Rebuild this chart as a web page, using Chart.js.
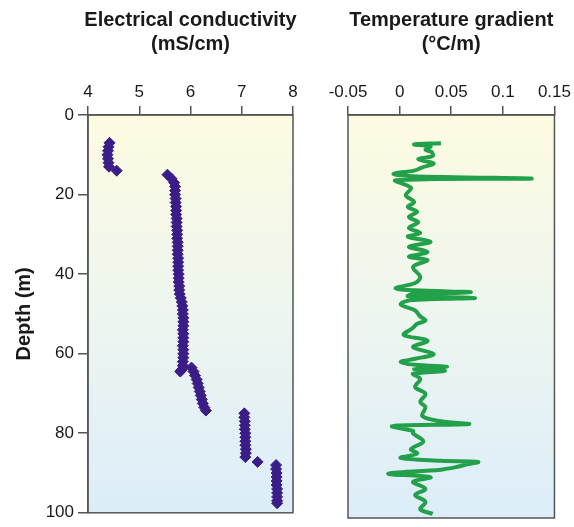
<!DOCTYPE html>
<html>
<head>
<meta charset="utf-8">
<script src="https://cdn.jsdelivr.net/npm/chart.js@4"></script>
<style>
	body { margin: 0; background: #fff; }
	canvas { position: absolute; top: 0; }
	#ecChart { left: 0; }
	#tgChart { left: 305px; }
</style>
</head>
<body>
<canvas id="ecChart" width="305" height="527"></canvas>
<canvas id="tgChart" width="269" height="527"></canvas>
<script>
// electrical conductivity log (mS/cm) against depth (m)
let ecDepth = [7, 8, 9, 10, 11, 12, 13, 14,
	15, 16, 17, 18, 19, 20, 21, 22, 23, 24, 25, 26, 27, 28, 29, 30, 31, 32, 33, 34, 35,
	36, 37, 38, 39, 40, 41, 42, 43, 44, 45, 46, 47, 48, 49, 50, 51, 52, 53, 54, 55,
	56, 57, 58, 59, 60, 61, 62, 63, 64, 64.5,
	63.5, 64.5, 65.5, 66.5, 67.5, 68.5, 69.5, 70.5, 71.5, 72.5, 73.5, 74.3,
	75, 76, 77, 78, 79, 80, 81, 82, 83, 84, 85, 86, 87.2,
	88, 89, 90, 91, 92, 93, 94, 95, 96, 97, 97.6];
let ecValue = [4.42, 4.40, 4.39, 4.38, 4.39, 4.40, 4.41, 4.56,
	5.55, 5.63, 5.68, 5.70, 5.70, 5.70, 5.71, 5.71, 5.72, 5.72, 5.72, 5.73, 5.73, 5.73, 5.74, 5.74, 5.74, 5.75, 5.75, 5.75, 5.75,
	5.76, 5.76, 5.76, 5.76, 5.77, 5.77, 5.77, 5.78, 5.78, 5.79, 5.81, 5.83, 5.84, 5.85, 5.85, 5.86, 5.86, 5.86, 5.85, 5.86,
	5.86, 5.86, 5.85, 5.86, 5.86, 5.86, 5.85, 5.85, 5.83, 5.80,
	6.02, 6.06, 6.09, 6.12, 6.14, 6.16, 6.18, 6.20, 6.22, 6.24, 6.27, 6.30,
	7.05, 7.05, 7.06, 7.06, 7.06, 7.07, 7.07, 7.07, 7.07, 7.08, 7.08, 7.07, 7.31,
	7.67, 7.67, 7.68, 7.68, 7.68, 7.68, 7.69, 7.69, 7.69, 7.69, 7.69];

// temperature gradient (°C/m) against depth (m)
let tgDepth = [7.0, 7.3, 7.8, 8.6, 9.2, 10.2, 11.0, 12.0, 13.0, 13.8, 14.6, 15.2, 15.8, 16.2,
	18.1, 19.9, 21.6, 22.8, 24.0, 25.3, 26.6, 28.0, 29.3, 30.2, 31.5, 32.7, 34.0, 35.2,
	36.0, 37.7, 40.2, 41.7, 43.0, 43.5, 44.0, 44.5, 45.0, 45.4, 46.0, 47.0, 48.5, 50.0, 51.0,
	51.8, 53.0, 54.6, 56.0, 57.6, 59.3, 60.5, 61.3, 62.0, 62.5, 63.0, 63.5, 64.2, 65.5,
	67.5, 69.2, 71.2, 72.5, 74.7, 76.0, 76.7, 77.2, 78.4, 79.0, 81.0, 82.9, 84.0, 85.1,
	85.8, 86.1, 86.7, 87.3, 88.0, 89.0, 89.9, 91.0, 92.8, 94.3, 96.0, 97.8, 99.0];
let tgValue = [0.040, 0.014, 0.030, 0.025, 0.031, 0.032, 0.018, 0.033, 0.022, 0.014, -0.006, 0.012, 0.128, -0.004,
	0.011, 0.006, 0.014, 0.008, 0.017, 0.009, 0.018, 0.009, 0.020, 0.008, 0.030, 0.009, 0.027, 0.009,
	0.027, 0.013, 0.020, 0.015, -0.004, 0.015, 0.069, 0.012, 0.008, 0.073, 0.010, 0.001, 0.015, 0.020, 0.025,
	0.017, 0.012, 0.004, 0.027, 0.013, 0.033, 0.015, 0.001, 0.015, 0.046, 0.014, 0.044, 0.013, 0.020,
	0.015, 0.025, 0.020, 0.025, 0.022, 0.040, 0.067, -0.007, 0.013, 0.013, 0.023, 0.011, 0.017, 0.001,
	0.040, 0.076, 0.065, 0.056, 0.040, -0.011, 0.030, 0.013, 0.025, 0.015, 0.025, 0.020, 0.032];

let ecTicks = [4, 5, 6, 7, 8];
let tgTicks = [-0.05, 0, 0.05, 0.1, 0.15];
let depthTicks = [0, 20, 40, 60, 80, 100];

const FONT = "'Liberation Sans', Arial, Helvetica, sans-serif";
const AXIS = "#555";

function toPoints(xs, ys) {
	let pts = [];
	for(let i=0; i<xs.length; i++)
		pts.push({x: xs[i], y: ys[i]});
	return pts;
}

// panel background, frame and two-line heading
function panelPlugin(lines) {
	return {
		id: "panel",
		beforeDraw(chart) {
			let a = chart.chartArea, ctx = chart.ctx;
			let g = ctx.createLinearGradient(0, a.top, 0, a.bottom);
			g.addColorStop(0, "#fdfbe1");
			g.addColorStop(0.45, "#eff6ee");
			g.addColorStop(1, "#dcedf9");
			ctx.save();
			ctx.fillStyle = g;
			ctx.fillRect(a.left, a.top, a.right - a.left, a.bottom - a.top);
			ctx.restore();
		},
		afterDraw(chart) {
			let a = chart.chartArea, ctx = chart.ctx;
			ctx.save();
			ctx.strokeStyle = AXIS;
			ctx.lineWidth = 1.5;
			ctx.strokeRect(a.left, a.top, a.right - a.left, a.bottom - a.top);
			ctx.fillStyle = "#1a1a1a";
			ctx.font = "bold 20px " + FONT;
			ctx.textAlign = "center";
			let cx = (a.left + a.right) / 2;
			ctx.fillText(lines[0], cx, 26);
			ctx.fillText(lines[1], cx, 50);
			ctx.restore();
		}
	};
}

function xScale(min, max, values) {
	return {
		type: "linear",
		position: "top",
		min: min,
		max: max,
		afterBuildTicks: (s) => { s.ticks = values.map(v => ({value: v})); },
		afterFit: (s) => { s.height = 115; },
		ticks: {
			color: "#1a1a1a",
			font: {family: FONT, size: 17},
			padding: 3,
			maxRotation: 0,
			autoSkip: false,
			callback: (v) => String(Math.round(v * 100) / 100)
		},
		grid: {drawOnChartArea: false, tickLength: 9, color: AXIS, lineWidth: 1.5},
		border: {color: AXIS, width: 1.5}
	};
}

function yScale(show) {
	let s = {
		type: "linear",
		reverse: true,
		min: 0,
		max: 100,
		display: show,
		afterBuildTicks: (s) => { s.ticks = depthTicks.map(v => ({value: v})); },
		title: {
			display: true,
			text: "Depth (m)",
			color: "#1a1a1a",
			font: {family: FONT, size: 20, weight: "bold"},
			padding: {top: 12, bottom: 0}
		},
		ticks: {color: "#1a1a1a", font: {family: FONT, size: 17}, padding: 4, autoSkip: false},
		grid: {drawOnChartArea: false, tickLength: 10, color: AXIS, lineWidth: 1.5},
		border: {color: AXIS, width: 1.5}
	};
	if(show)
		s.afterFit = (sc) => { sc.width = 88; };
	return s;
}

new Chart(document.getElementById("ecChart"), {
	type: "scatter",
	data: {
		datasets: [{
			data: toPoints(ecValue, ecDepth),
			pointStyle: "rectRot",
			pointRadius: 5.5,
			backgroundColor: "#3b1d88",
			borderColor: "#3b1d88",
			borderWidth: 1
		}]
	},
	options: {
		responsive: false,
		animation: false,
		layout: {padding: {left: 0, right: 12, top: 0, bottom: 9}},
		plugins: {legend: {display: false}, tooltip: {enabled: false}},
		scales: {x: xScale(4, 8, ecTicks), y: yScale(true)}
	},
	plugins: [panelPlugin(["Electrical conductivity", "(mS/cm)"])]
});

new Chart(document.getElementById("tgChart"), {
	type: "scatter",
	data: {
		datasets: [{
			data: toPoints(tgValue, tgDepth),
			showLine: true,
			pointRadius: 0,
			borderColor: "#22a04a",
			borderWidth: 4,
			tension: 0.35
		}]
	},
	options: {
		responsive: false,
		animation: false,
		layout: {padding: {left: 43, right: 19, top: 0, bottom: 9}},
		plugins: {legend: {display: false}, tooltip: {enabled: false}},
		scales: {x: xScale(-0.05, 0.15, tgTicks), y: yScale(false)}
	},
	plugins: [panelPlugin(["Temperature gradient", "(°C/m)"])]
});
</script>
</body>
</html>
